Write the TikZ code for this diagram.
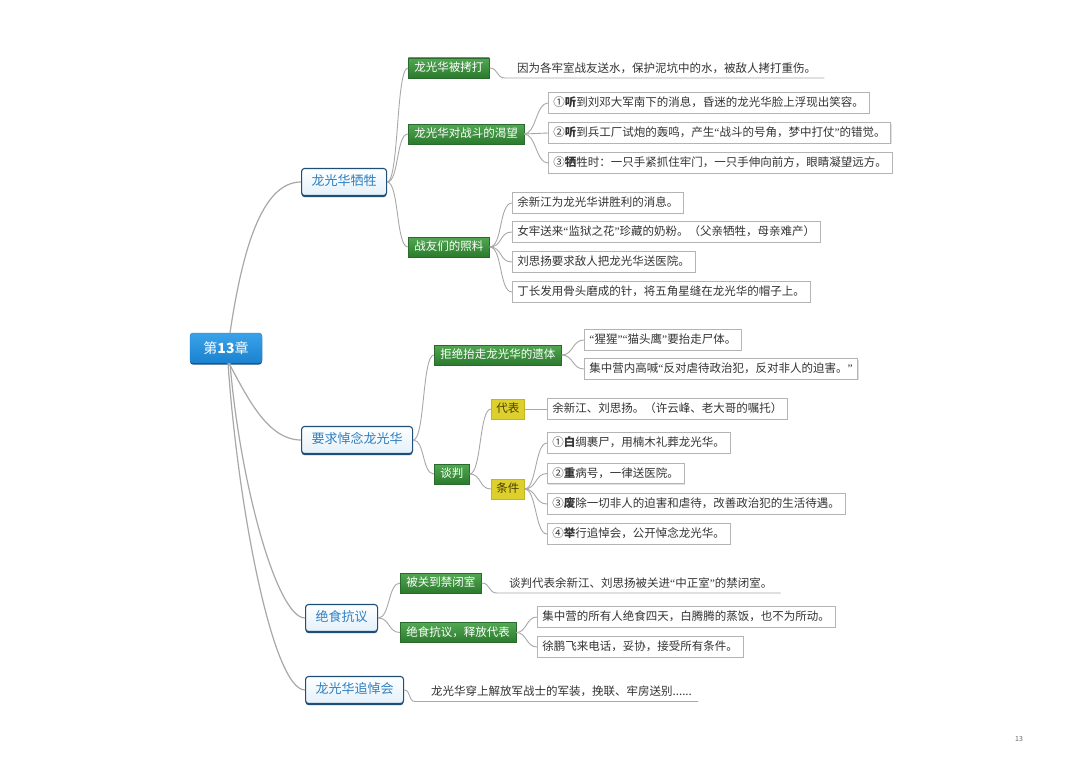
\documentclass[tikz,border=0pt]{standalone}
\usepackage{fontspec}
\setmainfont{Noto Sans CJK SC}
\newfontfamily\qfont{Liberation Serif}
\newcommand\qo{{\qfont “}}
\newcommand\qc{{\qfont ”}}
\usetikzlibrary{shadows,calc}
\definecolor{lineg}{HTML}{A8A8A8}
\definecolor{roott}{HTML}{3AA2EA}
\definecolor{rootb}{HTML}{1B82CF}
\definecolor{rootd}{HTML}{1A4E7E}
\definecolor{lonb}{HTML}{1F4E79}
\definecolor{lont}{HTML}{2F7FC0}
\definecolor{lonf}{HTML}{E3F0FA}
\definecolor{gtop}{HTML}{52A852}
\definecolor{gbot}{HTML}{2B7A2E}
\definecolor{gnb}{HTML}{2A6A2C}
\definecolor{yel}{HTML}{DDCF2C}
\definecolor{yelb}{HTML}{C4B620}
\definecolor{yelt}{HTML}{4A3E00}
\definecolor{leafb}{HTML}{B4B4B4}
\definecolor{txt}{HTML}{333333}
\newcommand\fs{\fontsize{11.5}{13}\selectfont}
\newcommand\fl{\fontsize{13}{15}\selectfont}
\begin{document}
\begin{tikzpicture}[x=1pt,y=-1pt,
  conn/.style={draw=lineg, line width=0.9pt},
  rconn/.style={draw=lineg, line width=1.2pt},
  rootbox/.style={rounded corners=3pt, top color=roott, bottom color=rootb, draw=rootb,
    text=white, font=\fontsize{14}{16}\selectfont, minimum width=72pt, minimum height=30pt,
    drop shadow={shadow xshift=0pt, shadow yshift=-1.6pt, fill=rootd, opacity=1}},
  lone/.style={rounded corners=3pt, draw=lonb, line width=1.1pt, top color=white, bottom color=lonf,
    text=lont, font=\fl, inner xsep=10pt, inner ysep=0pt, text height=10.5pt, text depth=3pt,
    minimum height=27pt,
    drop shadow={shadow xshift=0pt, shadow yshift=-1.6pt, fill=lonb, opacity=1}},
  gn/.style={draw=gnb, line width=0.6pt, top color=gtop, bottom color=gbot, text=white, font=\fs,
    inner xsep=6pt, inner ysep=0pt, text height=9.5pt, text depth=2.5pt, minimum height=20pt,
    drop shadow={shadow xshift=0.8pt, shadow yshift=-0.8pt, fill=black!25, opacity=1}},
  yb/.style={draw=yelb, line width=0.6pt, fill=yel, text=yelt, font=\fs,
    inner xsep=5pt, inner ysep=0pt, text height=9.5pt, text depth=2.5pt, minimum height=20pt,
    minimum width=33pt},
  leaf/.style={draw=leafb, line width=0.8pt, fill=white, text=txt, font=\fs,
    inner xsep=5pt, inner ysep=0pt, text height=9.5pt, text depth=2.5pt, minimum height=20.5pt,
    drop shadow={shadow xshift=1pt, shadow yshift=-1pt, fill=black!12, opacity=1}},
  ul/.style={inner sep=0pt, text=txt, font=\fs, text height=9.5pt, text depth=2.5pt, anchor=west}
]
\useasboundingbox[fill=white] (0,0) rectangle (1080,760);

% root
\node[rootbox] (root) at (226,348) {第\textbf{13}章};

% level 1
\node[lone,anchor=west] (A) at (301,182) {龙光华牺牲};
\node[lone,anchor=west] (B) at (301,440) {要求悼念龙光华};
\node[lone,anchor=west] (C) at (305,618) {绝食抗议};
\node[lone,anchor=west] (D) at (305,690) {龙光华追悼会};

% level 2
\node[gn,anchor=west] (g1) at (408,68) {龙光华被拷打};
\node[gn,anchor=west] (g2) at (408,134) {龙光华对战斗的渴望};
\node[gn,anchor=west] (g3) at (408,247) {战友们的照料};
\node[gn,anchor=west] (g4) at (434,355) {拒绝抬走龙光华的遗体};
\node[gn,anchor=west] (g5) at (434,474) {谈判};
\node[gn,anchor=west] (g6) at (400,583) {被关到禁闭室};
\node[gn,anchor=west] (g7) at (400,632.5) {绝食抗议，释放代表};

\node[yb,anchor=west] (y1) at (491,409) {代表};
\node[yb,anchor=west] (y2) at (491,489) {条件};

% leaves
\node[ul] (u1) at (517,69) {因为各牢室战友送水，保护泥坑中的水，被敌人拷打重伤。};
\coordinate (u1s) at (505,78);
\node[leaf,anchor=west] (a1) at (548,103) {①\textbf{听}到刘邓大军南下的消息，昏迷的龙光华脸上浮现出笑容。};
\node[leaf,anchor=west] (a2) at (548,133) {②\textbf{听}到兵工厂试炮的轰鸣，产生\qo 战斗的号角，梦中打仗\qc 的错觉。};
\node[leaf,anchor=west] (a3) at (548,163) {③\textbf{牺}牲时：一只手紧抓住牢门，一只手伸向前方，眼睛凝望远方。};
\node[leaf,anchor=west] (b1) at (512,203) {余新江为龙光华讲胜利的消息。};
\node[leaf,anchor=west] (b2) at (512,232) {女牢送来\qo 监狱之花\qc 珍藏的奶粉。（父亲牺牲，母亲难产）};
\node[leaf,anchor=west] (b3) at (512,262) {刘思扬要求敌人把龙光华送医院。};
\node[leaf,anchor=west] (b4) at (512,292) {丁长发用骨头磨成的针，将五角星缝在龙光华的帽子上。};
\node[leaf,anchor=west] (c1) at (584,340) {\qo 猩猩\qc\qo 猫头鹰\qc 要抬走尸体。};
\node[leaf,anchor=west] (c2) at (584,369) {集中营内高喊\qo 反对虐待政治犯，反对非人的迫害。\qc};
\node[leaf,anchor=west] (d1) at (547,409) {余新江、刘思扬。（许云峰、老大哥的嘱托）};
\node[leaf,anchor=west] (e1) at (547,443) {①\textbf{白}绸裹尸，用楠木礼葬龙光华。};
\node[leaf,anchor=west] (e2) at (547,473.5) {②\textbf{重}病号，一律送医院。};
\node[leaf,anchor=west] (e3) at (547,504) {③\textbf{废}除一切非人的迫害和虐待，改善政治犯的生活待遇。};
\node[leaf,anchor=west] (e4) at (547,534) {④\textbf{举}行追悼会，公开悼念龙光华。};
\node[ul] (u2) at (509,584) {谈判代表余新江、刘思扬被关进\qo 中正室\qc 的禁闭室。};
\coordinate (u2s) at (497,593);
\node[leaf,anchor=west] (f1) at (537,617) {集中营的所有人绝食四天，白腾腾的蒸饭，也不为所动。};
\node[leaf,anchor=west] (f2) at (537,647) {徐鹏飞来电话，妥协，接受所有条件。};
\node[ul] (u3) at (431,692) {龙光华穿上解放军战士的军装，挽联、牢房送别......};
\coordinate (u3s) at (415,701.5);

% page number
\node[font=\fontsize{7}{8}\selectfont, text=black!60] (pg) at (1019,739) {13};

% root connectors
\draw[rconn] ($(root.north)+(4,0)$) .. controls +(12,-80) and +(-40,0) .. (A.west);
\draw[rconn] ($(root.south)+(3,0)$) .. controls +(20,38) and +(-32,0) .. (B.west);
\draw[rconn] ($(root.south)+(4,0)$) .. controls +(10,120) and +(-28,0) .. (C.west);
\draw[rconn] ($(root.south)+(2,0)$) .. controls +(10,145) and +(-32,0) .. (D.west);

% level1 -> level2
\foreach \c in {g1,g2,g3}{\draw[conn] (A.east) .. controls +(12,0) and +(-12,0) .. (\c.west);}
\foreach \c in {g4,g5}{\draw[conn] (B.east) .. controls +(12,0) and +(-12,0) .. (\c.west);}
\foreach \c in {g6,g7}{\draw[conn] (C.east) .. controls +(12,0) and +(-12,0) .. (\c.west);}
\draw[conn] (D.east) .. controls +(7,0) and +(-7,0) .. (u3s) -- (u3s -| u3.east) -- ++(6,0);

% level2 -> leaves
\draw[conn] (g1.east) .. controls +(9,0) and +(-9,0) .. (u1s) -- (u1s -| u1.east) -- ++(8,0);
\foreach \c in {a1,a2,a3}{\draw[conn] (g2.east) .. controls +(12,0) and +(-12,0) .. (\c.west);}
\foreach \c in {b1,b2,b3,b4}{\draw[conn] (g3.east) .. controls +(13,0) and +(-13,0) .. (\c.west);}
\foreach \c in {c1,c2}{\draw[conn] (g4.east) .. controls +(12,0) and +(-12,0) .. (\c.west);}
\foreach \c in {y1,y2}{\draw[conn] (g5.east) .. controls +(12,0) and +(-12,0) .. (\c.west);}
\draw[conn] (y1.east) -- (d1.west);
\foreach \c in {e1,e2,e3,e4}{\draw[conn] (y2.east) .. controls +(12,0) and +(-12,0) .. (\c.west);}
\draw[conn] (g6.east) .. controls +(9,0) and +(-9,0) .. (u2s) -- (u2s -| u2.east) -- ++(8,0);
\foreach \c in {f1,f2}{\draw[conn] (g7.east) .. controls +(11,0) and +(-11,0) .. (\c.west);}
\end{tikzpicture}
\end{document}
